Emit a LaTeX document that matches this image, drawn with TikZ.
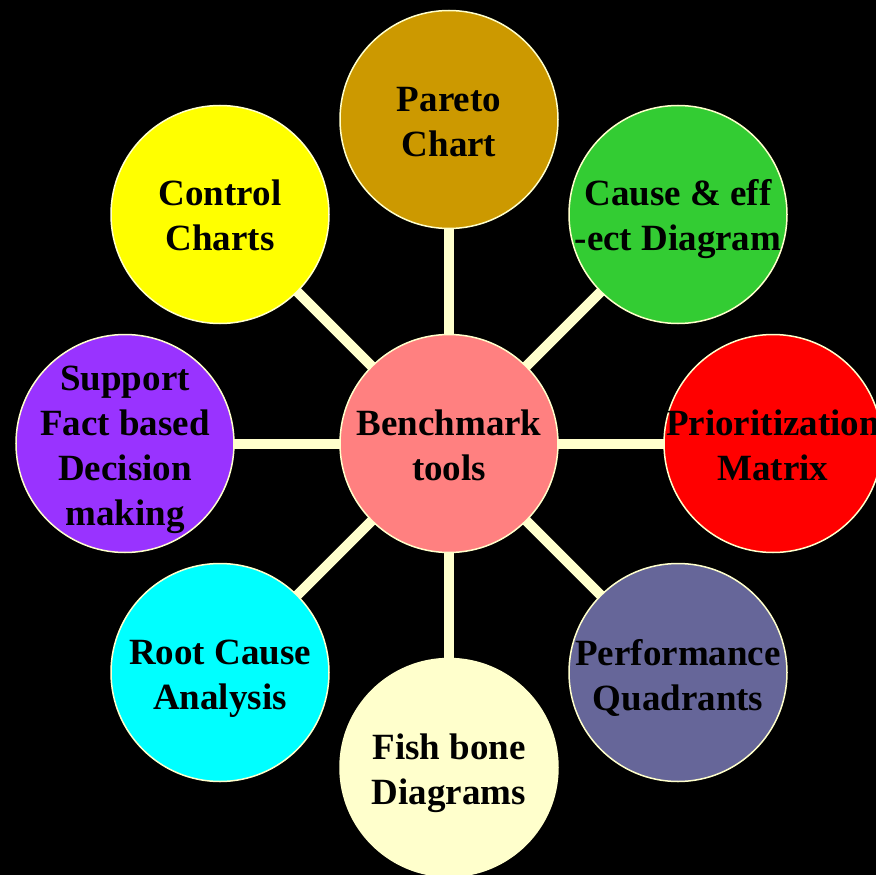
\documentclass[tikz,border=0pt]{standalone}
\usepackage{fontspec}
\setmainfont{Liberation Serif}
\pgfdeclarelayer{bg}
\pgfsetlayers{bg,main}
\definecolor{linecol}{HTML}{FFFFCC}
\definecolor{cpareto}{HTML}{CC9900}
\definecolor{ccause}{HTML}{33CC33}
\definecolor{cprio}{HTML}{FF0000}
\definecolor{cperf}{HTML}{666699}
\definecolor{cfish}{HTML}{FFFFCC}
\definecolor{croot}{HTML}{00FFFF}
\definecolor{csupp}{HTML}{9933FF}
\definecolor{cctrl}{HTML}{FFFF00}
\definecolor{ccenter}{HTML}{FF8080}
\tikzset{
  disc/.style={circle, draw=linecol, line width=1.5pt, minimum size=218pt, inner sep=0pt},
  txt/.style={align=center, inner sep=0pt, font=\fontsize{37}{45}\selectfont\bfseries, text=black},
  spoke/.style={draw=linecol, line width=10pt}
}
\begin{document}
\begin{tikzpicture}[x=1pt,y=1pt]
\useasboundingbox (0,0) rectangle (876,-875);
\node[disc, fill=ccenter] (c) at (449,-443.5) {};
\node[disc, fill=cpareto] (p) at (449,-119.5) {};
\node[disc, fill=ccause] (ce) at (678,-214.5) {};
\node[disc, fill=cprio] (pm) at (773,-443.5) {};
\node[disc, fill=cperf] (pq) at (678,-672.5) {};
\node[disc, fill=cfish] (fb) at (449,-767.5) {};
\node[disc, fill=croot] (rc) at (220,-672.5) {};
\node[disc, fill=csupp] (sf) at (125,-443.5) {};
\node[disc, fill=cctrl] (cc) at (220,-214.5) {};
\node[txt, yshift=-2pt] (ct) at (c) {Benchmark\\tools};
\node[txt, yshift=-3pt] (pt) at (p) {Pareto\\Chart};
\node[txt, yshift=-5pt] (cet) at (ce) {Cause \& eff\\-ect Diagram};
\node[txt, yshift=-2pt] (pmt) at (pm) {Prioritization\\Matrix};
\node[txt, yshift=-5pt] (pqt) at (pq) {Performance\\Quadrants};
\node[txt, yshift=-6pt] (fbt) at (fb) {Fish bone\\Diagrams};
\node[txt, yshift=-6pt] (rct) at (rc) {Root Cause\\Analysis};
\node[txt, yshift=-6pt] (sft) at (sf) {Support\\Fact based\\Decision\\making};
\node[txt, yshift=-1pt] (cct) at (cc) {Control\\Charts};
\begin{pgfonlayer}{bg}
\fill[black] (0,0) rectangle (876,-875);
\foreach \n in {p,ce,pm,pq,fb,rc,sf,cc}{
  \path[spoke] (c.center) -- (\n.center);
}
\end{pgfonlayer}
\end{tikzpicture}
\end{document}
